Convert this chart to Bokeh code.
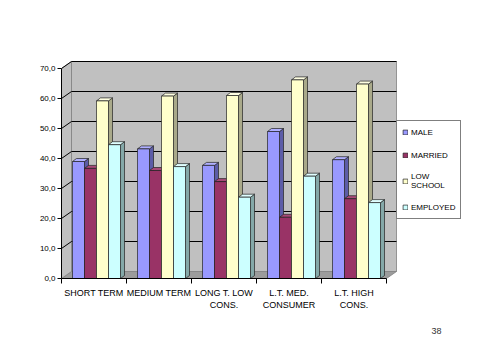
from bokeh.plotting import figure
from bokeh.models import (ColumnDataSource, Range1d, FixedTicker, Legend, LegendItem, Title)
from bokeh.embed import file_html
from bokeh.resources import INLINE

categories = ["SHORT TERM", "MEDIUM TERM", "LONG T. LOW\nCONS.", "L.T. MED.\nCONSUMER", "L.T. HIGH\nCONS."]
series_names = ["MALE", "MARRIED", "LOW\nSCHOOL", "EMPLOYED"]
male = [39.0, 43.2, 37.7, 49.0, 39.6]
married = [36.7, 36.0, 32.3, 20.4, 26.6]
low_school = [59.2, 60.8, 61.0, 66.2, 64.8]
employed = [44.6, 37.3, 27.1, 34.1, 25.3]
y_ticks = [0, 10, 20, 30, 40, 50, 60, 70]

series = [male, married, low_school, employed]
front_colors = ["#9999FF", "#993366", "#FFFFCC", "#CCFFFF"]
side_colors = ["#5C5CA8", "#5E1F40", "#A9A98A", "#84A8A8"]
top_colors = ["#B0B0FF", "#A84A78", "#FFFFE2", "#E0FFFF"]

FONT = "Liberation Sans"
PXX = 65.0   # px per category
PXY = 3.0    # px per value unit
DX = 10 / PXX          # wall depth in x units
DY = 7 / PXY           # wall depth in y units
BDX = 4 / PXX          # bar depth
BDY = 3 / PXY
BW = 12 / PXX          # bar width
B0 = 11 / PXX          # first bar left offset

ncat = len(categories)
W, H = 468, 347
left_b, top_b, right_b = 61, 60, 2
fh = 218
fw = W - left_b - right_b
x_end = fw / PXX
y_end = fh / PXY

p = figure(width=W, height=H, output_backend="svg", toolbar_location=None,
           x_range=Range1d(0, x_end), y_range=Range1d(0, y_end),
           min_border_left=left_b, min_border_right=right_b,
           min_border_top=top_b, min_border_bottom=H - top_b - fh,
           background_fill_color="white", border_fill_color="white")
p.outline_line_color = None
p.xgrid.visible = False
p.ygrid.visible = False

# walls and floor
p.patch([0, ncat, ncat + DX, DX], [0, 0, DY, DY], fill_color="#9C9C9C", line_color="#808080", line_width=0.8)
p.patch([0, DX, DX, 0], [0, DY, 70 + DY, 70], fill_color="#C0C0C0", line_color="#808080", line_width=0.8)
p.patch([DX, ncat + DX, ncat + DX, DX], [DY, DY, 70 + DY, 70 + DY], fill_color="#C0C0C0", line_color="#808080", line_width=0.8)

# gridlines on walls
gt = [t for t in y_ticks if t > 0]
p.segment(x0=[DX] * len(gt), y0=[t + DY for t in gt], x1=[ncat + DX] * len(gt), y1=[t + DY for t in gt],
          line_color="black", line_width=1)
p.segment(x0=[0] * len(gt), y0=gt, x1=[DX] * len(gt), y1=[t + DY for t in gt],
          line_color="black", line_width=1)

# bars (drawn category by category, left to right)
legend_renderers = [None] * 4
for i in range(ncat):
    for k, vals in enumerate(series):
        v = vals[i]
        x0 = i + B0 + k * BW
        x1 = x0 + BW
        p.patch([x1, x1 + BDX, x1 + BDX, x1], [0, BDY, v + BDY, v],
                fill_color=side_colors[k], line_color="#222222", line_width=0.7)
        p.patch([x0, x0 + BDX, x1 + BDX, x1], [v, v + BDY, v + BDY, v],
                fill_color=top_colors[k], line_color="#222222", line_width=0.7)
        src = ColumnDataSource(dict(x=[x0 + BW / 2], top=[v]))
        r = p.vbar(x="x", top="top", bottom=0, width=BW, source=src,
                   fill_color=front_colors[k], line_color="#222222", line_width=0.7)
        if legend_renderers[k] is None:
            legend_renderers[k] = r

# axes
p.yaxis.ticker = FixedTicker(ticks=y_ticks)
p.yaxis.major_label_overrides = {t: f"{t:.1f}".replace(".", ",") for t in y_ticks}
p.yaxis.bounds = (0, 70)
p.yaxis.major_tick_out = 4
p.yaxis.major_tick_in = 0
p.yaxis.minor_tick_line_color = None
p.yaxis.major_label_standoff = 2
p.yaxis.major_label_text_font = FONT
p.yaxis.major_label_text_font_size = "8px"
p.yaxis.major_label_text_color = "black"
p.yaxis.axis_line_color = "black"

p.xaxis.ticker = FixedTicker(ticks=[i + 0.5 for i in range(ncat)], minor_ticks=list(range(ncat + 1)))
p.xaxis.major_label_overrides = {i + 0.5: c for i, c in enumerate(categories)}
p.xaxis.bounds = (0, ncat)
p.xaxis.major_tick_line_color = None
p.xaxis.minor_tick_out = 5
p.xaxis.minor_tick_in = 0
p.xaxis.major_label_standoff = 3
p.xaxis.major_label_text_font = FONT
p.xaxis.major_label_text_font_size = "9px"
p.xaxis.major_label_text_color = "black"
p.xaxis.axis_line_color = "black"

legend = Legend(items=[LegendItem(label=n, renderers=[r]) for n, r in zip(series_names, legend_renderers)],
                location=(335, 59), padding=5, spacing=11,
                glyph_width=6, glyph_height=6, label_standoff=3, label_height=12,
                label_text_font=FONT, label_text_font_size="8px", label_text_color="black",
                border_line_color="black", border_line_width=1, background_fill_alpha=1)
p.add_layout(legend)

p.add_layout(Title(text="38", align="right", offset=25, standoff=27,
                   text_font=FONT, text_font_size="9px", text_font_style="normal",
                   text_color="#333333"), "below")

open("out.html", "w").write(file_html(p, INLINE))
